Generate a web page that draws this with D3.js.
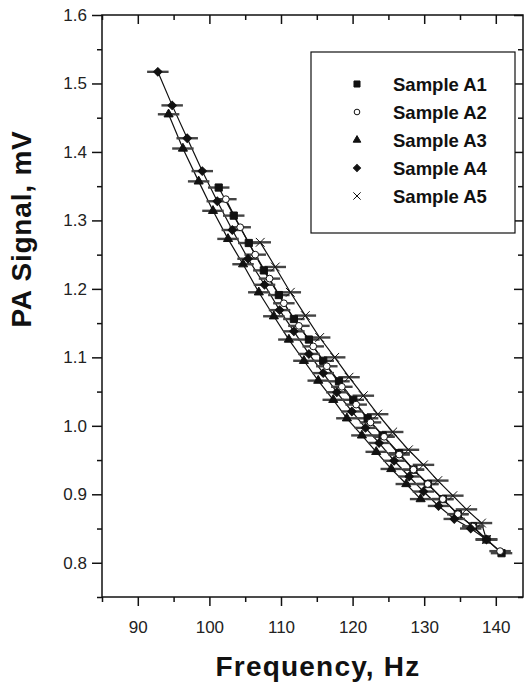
<!DOCTYPE html>
<html>
<head>
<meta charset="utf-8">
<script src="https://cdn.jsdelivr.net/npm/d3@7"></script>
<style>
  body { margin: 0; background: #fff; }
  svg { display: block; font-family: "Liberation Sans", Arial, sans-serif; }
</style>
</head>
<body>
<svg id="chart" width="524" height="686"></svg>
<script>
// values: [frequency Hz, PA signal mV]
const sampleA1 = [[101.3,1.348],[103.4,1.307],[105.5,1.267],[107.6,1.227],[109.7,1.191],[111.8,1.156],[113.9,1.126],[115.9,1.095],[118.1,1.065],[120.1,1.038],[122.1,1.011],[124.2,0.986],[126.5,0.960],[128.5,0.936],[130.5,0.915],[132.6,0.893],[134.7,0.871],[136.8,0.853],[138.7,0.834],[140.8,0.814]];
const sampleA2 = [[102.3,1.331],[104.3,1.290],[106.4,1.250],[108.4,1.215],[110.4,1.179],[112.5,1.146],[114.5,1.116],[116.4,1.087],[118.5,1.057],[120.5,1.031],[122.5,1.005],[124.4,0.984],[126.5,0.958],[128.5,0.936],[130.5,0.915],[132.6,0.893],[134.7,0.871],[136.8,0.853],[138.7,0.834],[140.6,0.817]];
const sampleA3 = [[94.3,1.455],[96.3,1.405],[98.5,1.357],[100.5,1.314],[102.6,1.273],[104.7,1.236],[106.9,1.195],[109.0,1.160],[111.1,1.126],[113.2,1.095],[115.2,1.066],[117.3,1.038],[119.2,1.011],[121.3,0.986],[123.3,0.962],[125.4,0.937],[127.5,0.915],[129.5,0.893]];
const sampleA4 = [[92.8,1.517],[94.8,1.468],[96.9,1.420],[99.0,1.372],[101.1,1.328],[103.2,1.286],[105.4,1.244],[107.7,1.206],[109.8,1.169],[111.8,1.138],[113.9,1.105],[115.9,1.077],[117.8,1.049],[119.9,1.021],[121.8,0.997],[123.7,0.975],[125.8,0.949],[127.9,0.926],[129.9,0.904],[132.0,0.883],[134.2,0.864],[136.5,0.850],[138.7,0.834]];
const sampleA5 = [[107.1,1.268],[109.2,1.232],[111.3,1.195],[113.4,1.161],[115.4,1.129],[117.5,1.100],[119.5,1.071],[121.5,1.044],[123.5,1.017],[125.6,0.991],[127.8,0.965],[129.9,0.943],[131.9,0.920],[134.0,0.898],[135.9,0.878],[138.0,0.858],[138.7,0.834]];
const freqErr = 1.5;

const seriesNames = ["Sample A1", "Sample A2", "Sample A3", "Sample A4", "Sample A5"];
const xTicks = [90, 100, 110, 120, 130, 140];
const xMinor = [85, 95, 105, 115, 125, 135];
const yTicks = [0.8, 0.9, 1.0, 1.1, 1.2, 1.3, 1.4, 1.5, 1.6];
const yMinor = [0.75, 0.85, 0.95, 1.05, 1.15, 1.25, 1.35, 1.45, 1.55];

const pxLeft = 102, pxRight = 523, pxTop = 15, pxBottom = 597;

const svg = d3.select("#chart");

let scX = d3.scaleLinear().domain([85, 143.8]).range([pxLeft, pxRight]);
let scY = d3.scaleLinear().domain([0.75, 1.6]).range([pxBottom, pxTop]);

// frame
svg.append("rect")
   .attr("x", pxLeft).attr("y", pxTop)
   .attr("width", pxRight - pxLeft).attr("height", pxBottom - pxTop)
   .attr("fill", "none").attr("stroke", "#111").attr("stroke-width", 1.5);

// axes: outer ticks on bottom/left, inner on top/right
function styleAxis(g) {
  g.select(".domain").remove();
  g.selectAll("line").attr("stroke", "#111").attr("stroke-width", 1.5);
  g.selectAll("text").attr("fill", "#222").attr("font-size", 17);
}

svg.append("g").attr("transform", `translate(0,${pxBottom})`)
   .call(d3.axisBottom(scX).tickValues(xTicks).tickSize(9).tickPadding(15).tickFormat(d3.format("d")))
   .call(styleAxis);
svg.append("g").attr("transform", `translate(0,${pxBottom})`)
   .call(d3.axisBottom(scX).tickValues(xMinor).tickSize(5).tickFormat(""))
   .call(styleAxis);
svg.append("g").attr("transform", `translate(0,${pxTop})`)
   .call(d3.axisBottom(scX).tickValues(xTicks).tickSize(9).tickFormat(""))
   .call(styleAxis);
svg.append("g").attr("transform", `translate(0,${pxTop})`)
   .call(d3.axisBottom(scX).tickValues(xMinor).tickSize(5).tickFormat(""))
   .call(styleAxis);

svg.append("g").attr("transform", `translate(${pxLeft},0)`)
   .call(d3.axisLeft(scY).tickValues(yTicks).tickSize(10).tickPadding(5).tickFormat(d3.format(".1f")))
   .call(styleAxis);
svg.append("g").attr("transform", `translate(${pxLeft},0)`)
   .call(d3.axisLeft(scY).tickValues(yMinor).tickSize(5).tickFormat(""))
   .call(styleAxis);
svg.append("g").attr("transform", `translate(${pxRight},0)`)
   .call(d3.axisLeft(scY).tickValues(yTicks).tickSize(9).tickFormat(""))
   .call(styleAxis);
svg.append("g").attr("transform", `translate(${pxRight},0)`)
   .call(d3.axisLeft(scY).tickValues(yMinor).tickSize(5).tickFormat(""))
   .call(styleAxis);

// titles
svg.append("text")
   .attr("x", 318).attr("y", 676)
   .attr("text-anchor", "middle")
   .attr("font-size", 28).attr("font-weight", "bold")
   .attr("letter-spacing", 1.2).attr("fill", "#111")
   .text("Frequency, Hz");
svg.append("text")
   .attr("transform", "translate(31,229) rotate(-90)")
   .attr("text-anchor", "middle")
   .attr("font-size", 28).attr("font-weight", "bold")
   .attr("letter-spacing", 0.8).attr("fill", "#111")
   .text("PA Signal, mV");

// symbols
const timesSym = d3.symbolTimes || d3.symbolX;
const markers = [
  { sym: d3.symbolSquare,   size: 52, fill: "#111", rot: 0 },
  { sym: d3.symbolCircle,   size: 36, fill: "#fff", rot: 0 },
  { sym: d3.symbolTriangle, size: 36, fill: "#111", rot: 0 },
  { sym: d3.symbolSquare,   size: 36, fill: "#111", rot: 45 },
  { sym: timesSym,          size: 52, fill: "none", rot: 0 }
];

const allSeries = [sampleA1, sampleA2, sampleA3, sampleA4, sampleA5];

let lineMaker = d3.line()
                  .x(d => scX(d[0]))
                  .y(d => scY(d[1]));

const plot = svg.append("g");

allSeries.forEach(function(data, i) {
  plot.append("path")
      .attr("fill", "none").attr("stroke", "#111").attr("stroke-width", 1.2)
      .attr("d", lineMaker(data));
});

allSeries.forEach(function(data, i) {
  plot.append("g")
      .selectAll("line")
      .data(data)
      .enter()
      .append("line")
      .attr("x1", d => scX(d[0] - freqErr))
      .attr("x2", d => scX(d[0] + freqErr))
      .attr("y1", d => scY(d[1]))
      .attr("y2", d => scY(d[1]))
      .attr("stroke", "#444").attr("stroke-width", 2.4);
});

allSeries.forEach(function(data, i) {
  let m = markers[i];
  plot.append("g")
      .selectAll("path")
      .data(data)
      .enter()
      .append("path")
      .attr("d", d3.symbol().type(m.sym).size(m.size))
      .attr("transform", d => `translate(${scX(d[0])},${scY(d[1])}) rotate(${m.rot})`)
      .attr("fill", m.fill)
      .attr("stroke", "#111").attr("stroke-width", 1);
});

// legend
const legend = svg.append("g");
legend.append("rect")
      .attr("x", 311).attr("y", 52).attr("width", 204).attr("height", 181)
      .attr("fill", "#fff").attr("stroke", "#111").attr("stroke-width", 1.2);

const legRows = legend.selectAll("g.row")
      .data(seriesNames)
      .enter()
      .append("g").attr("class", "row")
      .attr("transform", (d, i) => `translate(0,${84 + i * 28})`);

legRows.append("path")
       .attr("d", (d, i) => d3.symbol().type(markers[i].sym).size(markers[i].size * 0.7)())
       .attr("transform", (d, i) => `translate(357,0) rotate(${markers[i].rot})`)
       .attr("fill", (d, i) => markers[i].fill)
       .attr("stroke", "#111").attr("stroke-width", 1);

legRows.append("text")
       .attr("x", 393).attr("y", 0).attr("dy", "0.36em")
       .attr("font-size", 18.5).attr("font-weight", "bold").attr("fill", "#111")
       .text(d => d);
</script>
</body>
</html>
